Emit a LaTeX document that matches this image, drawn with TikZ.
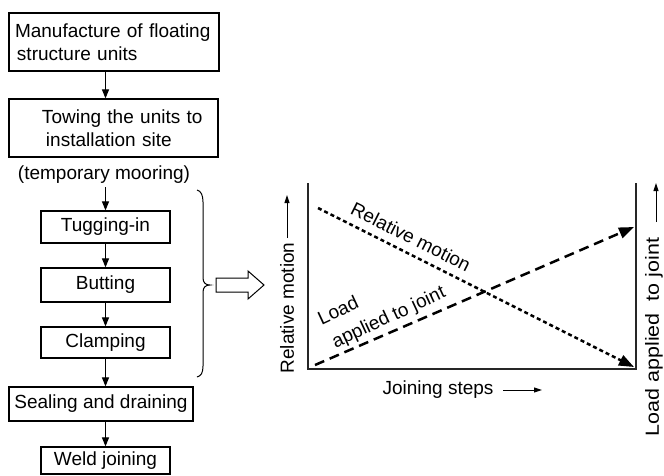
\documentclass[tikz,border=0pt]{standalone}
\usepackage{fontspec}
\usepackage{graphicx}
\setmainfont{Liberation Sans}
\usetikzlibrary{arrows.meta}
\begin{document}
\begin{tikzpicture}[x=1pt,y=-1pt,
  every node/.style={font=\fontsize{19}{23}\selectfont, inner sep=0pt},
  box/.style={draw, line width=1.2pt},
  flowarr/.style={line width=1.1pt, -{Triangle[length=9pt,width=7pt]}},
  axis/.style={line width=1.9pt, black!85},
  dotline/.style={line width=2.5pt, dash pattern=on 4pt off 3pt, -{Triangle[length=15pt,width=11pt]}},
  dashline/.style={line width=2.5pt, dash pattern=on 10pt off 6pt, -{Triangle[length=15pt,width=11pt]}},
  labarr/.style={line width=1pt, -{Triangle[length=8pt,width=5pt]}}]
\useasboundingbox (0,0) rectangle (664,475);
% flowchart
\node[box, minimum width=210pt, minimum height=58pt, text width=210pt, align=left] (b1) at (114,42)
  {\hspace*{6pt}Manufacture of floating\\\hspace*{8pt}structure units};
\node[box, minimum width=209pt, minimum height=58pt, text width=209pt, align=left] (b2) at (113.5,128)
  {\hspace*{33pt}Towing the units to\\\hspace*{37pt}installation site};
\node (moor) at (104,175) {(temporary mooring)};
\node[box, minimum width=129pt, minimum height=32pt] (b3) at (105.5,227) {Tugging-in};
\node[box, minimum width=129pt, minimum height=34pt] (b4) at (105.5,285) {Butting};
\node[box, minimum width=129pt, minimum height=31pt] (b5) at (105.5,342.5) {Clamping};
\node[box, minimum width=184pt, minimum height=34pt] (b6) at (101,404) {Sealing and draining};
\node[box, minimum width=129pt, minimum height=27pt] (b7) at (105.5,460.5) {Weld joining};
\coordinate (m0) at (105.5,187);
\draw[flowarr] (b1.south -| b3) -- (b2.north -| b3);
\draw[flowarr] (m0) -- (b3.north);
\draw[flowarr] (b3) -- (b4);
\draw[flowarr] (b4) -- (b5);
\draw[flowarr] (b5.south) -- (b6.north -| b5);
\draw[flowarr] (b6.south -| b7) -- (b7.north);
% brace
\draw[line width=1pt] (197,190) .. controls (201,191) and (203,195) .. (203,202) -- (203,278)
  .. controls (203,283) and (206,285) .. (210,285)
  .. controls (206,285) and (203,287) .. (203,292) -- (203,366)
  .. controls (203,373) and (201,376) .. (197,377);
% hollow arrow
\draw[line width=1pt, fill=white] (216,278) -- (248,278) -- (248,271) -- (264,285) -- (248,299) -- (248,292) -- (216,292) -- cycle;
% graph
\coordinate (tl) at (308,183);
\coordinate (bl) at (308,369);
\coordinate (br) at (636,369);
\coordinate (tr) at (636,183);
\draw[axis] (tl) -- (bl) -- (br) -- (tr);
\coordinate (d0) at (318,208);
\coordinate (d1) at (634,367);
\coordinate (e0) at (315,365);
\coordinate (e1) at (634,227);
\draw[dotline] (d0) -- (d1);
\draw[dashline] (e0) -- (e1);
\node[rotate=-26.7] (lrm) at (411,237) {Relative motion};
\node[rotate=25] (lload) at (338,310) {Load};
\node[rotate=25] (lapp) at (389,318) {applied to joint};
% axis labels
\node[rotate=90] (ylab) at (287,308) {Relative motion};
\coordinate (ya0) at (287,238);
\coordinate (ya1) at (287,195);
\draw[labarr] (ya0) -- (ya1);
\node[rotate=90] (y2lab) at (654,337) {\scalebox{1.13}[1]{Load applied\ \ to joint}};
\coordinate (yb0) at (656,222);
\coordinate (yb1) at (656,183);
\draw[labarr] (yb0) -- (yb1);
\node (xlab) at (438,390) {Joining steps};
\coordinate (xa0) at (503,390);
\coordinate (xa1) at (542,390);
\draw[labarr] (xa0) -- (xa1);
\end{tikzpicture}
\end{document}
